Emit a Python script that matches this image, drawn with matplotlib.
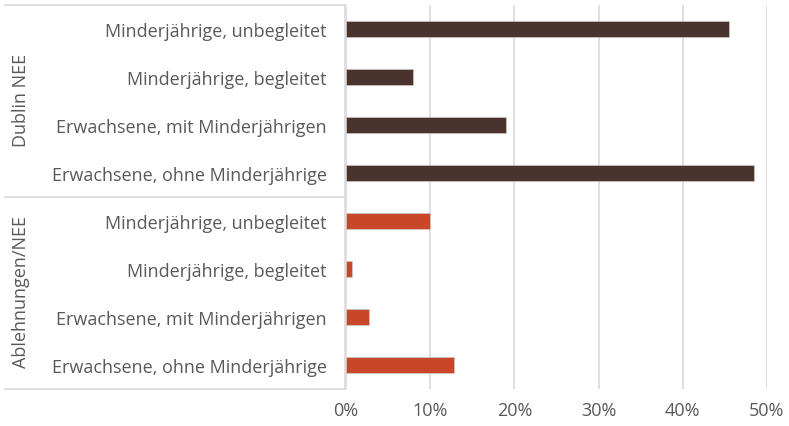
import matplotlib
matplotlib.use("Agg")
import matplotlib.pyplot as plt
from matplotlib.lines import Line2D
from matplotlib.ticker import FuncFormatter

groups = ["Dublin NEE", "Ablehnungen/NEE"]
categories = ["Minderjährige, unbegleitet", "Minderjährige, begleitet",
              "Erwachsene, mit Minderjährigen", "Erwachsene, ohne Minderjährige"]
dublin_values = [45.5, 7.9, 19.0, 48.5]
ablehnung_values = [10.0, 0.7, 2.7, 12.8]
group_colors = ["#4a332d", "#c84728"]
xticks = [0, 10, 20, 30, 40, 50]

plt.rcParams['font.family'] = ['Open Sans', 'DejaVu Sans']
W, H = 789, 427
fig = plt.figure(figsize=(W / 100, H / 100), dpi=100)
ax = fig.add_axes([346 / W, 1 - 390 / H, (767 - 346) / W, (390 - 6) / H])

FS = 13
labels = categories + categories
values = dublin_values + ablehnung_values
colors = [group_colors[0]] * 4 + [group_colors[1]] * 4
ypos = list(range(len(values)))
ax.barh(ypos, values, height=0.35, color=colors, edgecolor="#d0c8c6", linewidth=0.5, zorder=3)
ax.set_ylim(len(values) - 0.5, -0.5)
ax.set_xlim(0, 50)
ax.set_xticks(xticks)
ax.xaxis.set_major_formatter(FuncFormatter(lambda v, p: f"{v:.0f}%"))
ax.set_yticks(ypos)
ax.set_yticklabels(labels)
ax.tick_params(axis='y', length=0, pad=13, labelsize=FS, labelcolor="#595959")
ax.tick_params(axis='x', length=0, pad=9, labelsize=FS, labelcolor="#595959")
ax.grid(axis='x', color="#d9d9d9", linewidth=1.2, zorder=0)
for s in ["top", "right", "bottom"]:
    ax.spines[s].set_visible(False)
ax.spines["left"].set_color("#d9d9d9")
ax.spines["left"].set_linewidth(1.2)
ax.spines["left"].set_position(("outward", 1))

# group separators on the left
for yy in [6, 198, 390]:
    fig.add_artist(Line2D([5 / W, 345 / W], [1 - yy / H, 1 - yy / H],
                          color="#d9d9d9", linewidth=1.2, transform=fig.transFigure))
for g, yc in zip(groups, [100, 292]):
    fig.text(21 / W, 1 - yc / H, g, rotation=90, ha="center", va="center",
             fontsize=FS, color="#595959")

fig.savefig("out.png", dpi=100)
